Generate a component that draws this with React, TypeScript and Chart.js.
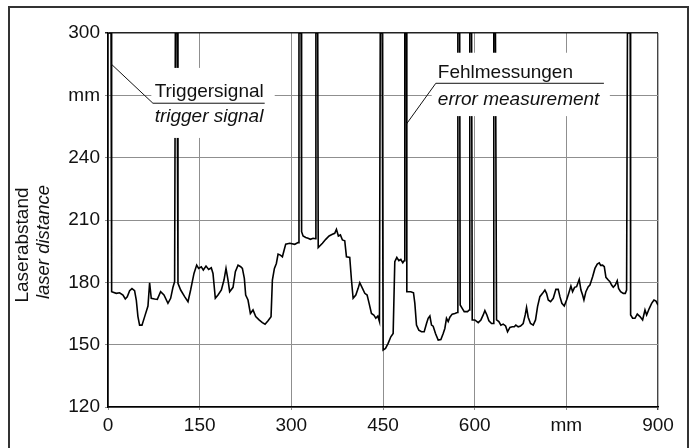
import React, { useEffect, useRef } from 'react';
import { Chart, registerables } from 'chart.js';

Chart.register(...registerables);

// Position along the track (mm)
const positionMm = [
  0, 5, 5.5, 6.4, 13.5, 19, 24.5, 28.3, 31.5, 35.4, 39.2, 43.5, 46.3, 49, 51.7, 55.6, 60, 65.4, 68.1, 70.8,
  76.3, 80.7, 86.1, 91.6, 98.1, 102.5, 106.3, 109, 110.2, 113, 114.5, 118.9, 125.4, 130.9, 135.2, 140.7,
  145.1, 148.3, 152.7, 156, 160.4, 164.7, 169, 171.8, 175.6, 180, 185.5, 189.8, 193.1, 196.4, 199.1, 204.6,
  208.4, 212.8, 217.1, 219.9, 223.1, 225.3, 229.1, 233, 237.3, 241.7, 247.2, 252.6, 257, 261.9, 266.8, 269,
  272.3, 275.5, 278.3, 282.1, 285.4, 287.5, 290.8, 297.4, 305.6, 311, 312.5, 316, 316.8, 319.2, 323.6,
  327.4, 331.2, 335.6, 339.5, 340.2, 343.2, 344, 350.9, 356.3, 361.8, 367.2, 371, 373.8, 377, 380.3, 383.6,
  387.4, 390.2, 395.6, 398.4, 401.1, 405.5, 409.3, 412, 416.4, 420.2, 424, 427.3, 431.1, 434.9, 438.2,
  441.5, 444.2, 445.5, 448.6, 450.2, 454.1, 458.4, 462.8, 466.6, 469.3, 472.6, 475.9, 479.2, 482.4, 484.6,
  485.7, 488.4, 489, 495.5, 499.9, 502.1, 504.8, 508.6, 513, 517.4, 521.2, 523.9, 526.7, 529.4, 532.1,
  535.9, 540.3, 544.7, 548.5, 551.2, 553.9, 556.7, 559.4, 563.2, 567.6, 571.5, 572.5, 575.5, 576.3, 579.6,
  582.9, 588.3, 591.1, 592, 595, 596, 600.3, 605.8, 610.2, 614, 616.7, 620, 623.3, 627.6, 630.4, 631.3,
  634, 635.8, 639.6, 642.9, 646.7, 650.6, 653.8, 657.7, 661.5, 664.8, 667.4, 671.2, 675.1, 679.4, 682.7,
  684.9, 687.6, 691.4, 695.8, 699.6, 702.9, 706.7, 711.1, 714.9, 717.6, 720.4, 724.2, 728.6, 732.9, 736.7,
  739.5, 742.7, 746.6, 750.4, 754.2, 757.5, 760.2, 763.5, 766.8, 771.1, 773.9, 776.6, 778.8, 782, 785.9,
  788.6, 793, 796.8, 800.6, 803.9, 806.1, 809.3, 812.1, 814.8, 818.6, 821.3, 824.1, 826.8, 830.1, 833.3,
  835.5, 838.8, 843.2, 846.5, 848.6, 850, 854.5, 855.2, 858.5, 862.3, 866.1, 870.5, 874.8, 878.7, 881.4,
  885.8, 889.6, 893.4, 896.7, 900,
];

// Laser distance (mm)
const laserDistance = [
  300, 300, 177, 175.5, 174.7, 175, 173.9, 172, 173, 176, 177, 176, 171.5, 163.5, 159.4, 159.4, 163.5, 168.6, 179.8, 172.3,
  172, 171.8, 175.5, 173.9, 169.9, 172.3, 177.6, 180.3, 300, 300, 179.5, 176.3, 173.1, 170.7, 176.3, 184.3,
  188.3, 186.7, 187.5, 185.9, 187.8, 186.2, 187, 184.3, 172.3, 173.9, 176.3, 181.1, 186.7, 181.1, 175.5, 177.6,
  185.1, 188.3, 187.5, 186.7, 181.9, 173.9, 171.5, 165, 166.7, 163.5, 161.9, 160.6, 159.8, 161.5, 163.5, 181.1,
  186.7, 189.1, 193.6, 193.1, 192.3, 194.7, 198.4, 198.8, 198.3, 199.1, 300, 300, 204.4, 202.3, 201.6,
  201.2, 200.7, 201.2, 201, 300, 300, 196.7, 198.8, 200.7, 202.3, 203.1, 203.6, 205.5, 202.3, 202.8, 200.4,
  200, 192.3, 192, 181.1, 172.3, 173.9, 177.1, 179.8, 177.1, 174.7, 173.9, 169.9, 165, 164.3, 162.7,
  163.8, 161.1, 300, 300, 147.4, 148.2, 150.6, 153.8, 155.4, 189.9, 192, 190.4, 191, 189.4, 190.4,
  300, 300, 175.5, 175.5, 175, 169.9, 159.4, 157, 156.2, 156.2, 160.2, 162.7, 163.8, 159.4, 158.9,
  155.4, 152.2, 152.5, 155.4, 157.8, 162.7, 161.1, 163.2, 164.7, 165, 165.5, 300, 300, 169.1, 167.5,
  165.9, 165.9, 166.7, 300, 300, 161.9, 161.9, 160.6, 161.9, 164.3, 166.4, 164.3, 161.5, 160.2, 160.2, 300,
  300, 161.9, 161.1, 159.4, 159.9, 159, 156.2, 158.3, 158.6, 158.6, 159.4, 158.6, 159, 160.2, 164.3,
  167.9, 163.2, 160.2, 159.4, 161.9, 168.3, 173.1, 174.7, 176.3, 174.7, 171.5, 170.7, 172.3, 176.6, 176.6,
  173.1, 169.9, 168.6, 171.5, 175, 178.2, 175.5, 177.6, 177.9, 181.4, 176.3, 173.9, 171.5, 175.5, 177.9,
  178.7, 182.7, 186.7, 188.8, 189.4, 188.2, 188.3, 187.5, 182.4, 181.1, 180.3, 178.7, 177.6, 178.7, 180.8,
  177.1, 175.5, 174.7, 174.7, 176.3, 300, 300, 164.3, 162.7, 162.7, 164.7, 163.5, 161.9, 166.7, 164.3,
  167.5, 169.9, 171.5, 171, 169,
];

const yTickValues = [120, 150, 180, 210, 240, 270, 300];
const yTickLabels = ['120', '150', '180', '210', '240', 'mm', '300'];
const xTickValues = [0, 150, 300, 450, 600, 750, 900];
const xTickLabels = ['0', '150', '300', '450', '600', 'mm', '900'];
const yTitleLines = ['Laserabstand', 'laser distance'];
const triggerText = ['Triggersignal', 'trigger signal'];
const errorText = ['Fehlmessungen', 'error measurement'];

const FONT = '"Liberation Sans", Arial, Helvetica, sans-serif';
const INK = '#111';

function drawLabel(chart: any, cfg: any) {
  const { ctx, scales } = chart;
  const xs = scales.x;
  const ys = scales.y;
  const px = (v: number) => xs.getPixelForValue(v);
  const py = (v: number) => ys.getPixelForValue(v);
  ctx.save();
  ctx.fillStyle = '#fff';
  const bx0 = px(cfg.box[0]);
  const bx1 = px(cfg.box[1]);
  const by0 = py(cfg.box[2]);
  const by1 = py(cfg.box[3]);
  ctx.fillRect(bx0, by0, bx1 - bx0, by1 - by0);
  ctx.strokeStyle = INK;
  ctx.lineWidth = 1;
  ctx.beginPath();
  ctx.moveTo(px(cfg.start[0]), py(cfg.start[1]));
  ctx.lineTo(px(cfg.knee[0]), py(cfg.knee[1]));
  ctx.lineTo(px(cfg.end), py(cfg.knee[1]));
  ctx.stroke();
  ctx.fillStyle = INK;
  ctx.textAlign = 'left';
  ctx.textBaseline = 'middle';
  ctx.font = `19px ${FONT}`;
  ctx.fillText(cfg.text[0], px(cfg.textX), py(cfg.textY[0]));
  ctx.font = `italic 19px ${FONT}`;
  ctx.fillText(cfg.text[1], px(cfg.textX), py(cfg.textY[1]));
  ctx.restore();
}

const decorPlugin = {
  id: 'decor',
  beforeDraw(chart: any) {
    const ctx = chart.ctx;
    ctx.save();
    ctx.strokeStyle = '#333';
    ctx.lineWidth = 2;
    ctx.strokeRect(9, 7, 679, 480);
    ctx.restore();
  },
  afterDatasetsDraw(chart: any) {
    drawLabel(chart, {
      box: [70.9, 272.8, 283.2, 249.5],
      start: [5.5, 285],
      knee: [73.5, 266.2],
      end: 256.4,
      textX: 76.3,
      textY: [271.8, 259.7],
      text: triggerText,
    });
    drawLabel(chart, {
      box: [529.7, 821.2, 290.5, 260],
      start: [488.4, 256.2],
      knee: [536.4, 275.8],
      end: 811.5,
      textX: 539.7,
      textY: [280.9, 267.8],
      text: errorText,
    });
  },
  afterDraw(chart: any) {
    const ctx = chart.ctx;
    ctx.save();
    ctx.fillStyle = INK;
    ctx.textAlign = 'center';
    ctx.textBaseline = 'middle';
    ctx.save();
    ctx.translate(23, 245);
    ctx.rotate(-Math.PI / 2);
    ctx.font = `19px ${FONT}`;
    ctx.fillText(yTitleLines[0], 0, 0);
    ctx.restore();
    ctx.save();
    ctx.translate(43.5, 242);
    ctx.rotate(-Math.PI / 2);
    ctx.font = `italic 18.5px ${FONT}`;
    ctx.fillText(yTitleLines[1], 0, 0);
    ctx.restore();
    ctx.restore();
  },
};

export default function App() {
  const canvasRef = useRef<HTMLCanvasElement | null>(null);

  useEffect(() => {
    const canvas = canvasRef.current;
    if (!canvas) return;
    const points = positionMm.map((x, i) => ({ x, y: laserDistance[i] }));
    const chart = new Chart(canvas, {
      type: 'line',
      data: {
        datasets: [
          {
            data: points,
            borderColor: '#000',
            borderWidth: 1.6,
            pointRadius: 0,
            tension: 0,
            fill: false,
          },
        ],
      },
      options: {
        animation: false,
        responsive: false,
        devicePixelRatio: 1,
        layout: { padding: { left: 0, right: 36, top: 33, bottom: 0 } },
        plugins: {
          legend: { display: false },
          tooltip: { enabled: false },
          title: { display: false },
        },
        scales: {
          x: {
            type: 'linear',
            min: 0,
            max: 900,
            afterFit: (s: any) => {
              s.height = 41;
            },
            afterBuildTicks: (s: any) => {
              s.ticks = xTickValues.map((v) => ({ value: v }));
            },
            ticks: {
              autoSkip: false,
              maxRotation: 0,
              padding: 4,
              color: INK,
              font: { family: FONT, size: 19 },
              callback: (v: any) => xTickLabels[xTickValues.indexOf(Number(v))],
            },
            grid: {
              color: (c: any) => (c.tick && c.tick.value === 900 ? '#444' : '#8f8f8f'),
              lineWidth: (c: any) => (c.tick && c.tick.value === 900 ? 1.4 : 1),
              tickLength: 3,
            },
            border: { color: '#000', width: 1.6 },
          },
          y: {
            type: 'linear',
            min: 120,
            max: 300,
            afterFit: (s: any) => {
              s.width = 108;
            },
            afterBuildTicks: (s: any) => {
              s.ticks = yTickValues.map((v) => ({ value: v }));
            },
            ticks: {
              autoSkip: false,
              padding: 5,
              color: INK,
              font: { family: FONT, size: 19 },
              callback: (v: any) => yTickLabels[yTickValues.indexOf(Number(v))],
            },
            grid: {
              color: (c: any) => (c.tick && c.tick.value === 300 ? '#222' : '#8f8f8f'),
              lineWidth: (c: any) => (c.tick && c.tick.value === 300 ? 1.4 : 1),
              tickLength: 3,
            },
            border: { color: '#000', width: 1.6 },
          },
        },
      },
      plugins: [decorPlugin],
    });
    return () => chart.destroy();
  }, []);

  return (
    <div style={{ position: 'fixed', left: 0, top: 0, width: 694, height: 448, background: '#fff' }}>
      <canvas ref={canvasRef} width={694} height={448} style={{ display: 'block' }} />
    </div>
  );
}
